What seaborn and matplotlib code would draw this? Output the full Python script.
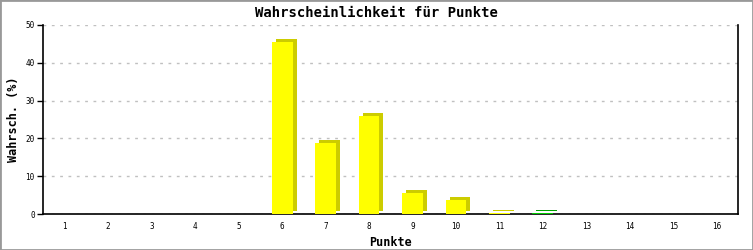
import matplotlib
matplotlib.use("Agg")
import matplotlib.pyplot as plt
import matplotlib.transforms as mtransforms
from matplotlib.patches import Rectangle
import seaborn as sns
import pandas as pd

punkte = [str(i) for i in range(1, 17)]
wahrsch = [0, 0, 0, 0, 0, 45.5, 18.9, 26.0, 5.6, 3.7, 0.3, 0.2, 0, 0, 0, 0]
front_colors = ["#FFFF00"] * 11 + ["#00CC00"] + ["#FFFF00"] * 4
shadow_colors = ["#CCCC00"] * 11 + ["#00A000"] + ["#CCCC00"] * 4

title = "Wahrscheinlichkeit für Punkte"
xlabel = "Punkte"
ylabel = "Wahrsch. (%)"
yticks = [0, 10, 20, 30, 40, 50]

sns.set_theme(style="white")
plt.rcParams["font.family"] = ["DejaVu Sans Mono", "DejaVu Sans"]
plt.rcParams["text.color"] = "black"
plt.rcParams["axes.labelcolor"] = "black"
plt.rcParams["xtick.color"] = "black"
plt.rcParams["ytick.color"] = "black"

df = pd.DataFrame({"Punkte": punkte, "Wahrsch": wahrsch})

fig = plt.figure(figsize=(7.53, 2.5), dpi=100)
ax = fig.add_axes([43 / 753, 1 - 214 / 250, (738.5 - 43) / 753, (214 - 25) / 250])

# shadow bars (3D extrusion)
sns.barplot(data=df, x="Punkte", y="Wahrsch", hue="Punkte", order=punkte,
            hue_order=punkte, palette=shadow_colors, width=0.48, legend=False,
            saturation=1, ax=ax, linewidth=0, zorder=2)
n_shadow = len(ax.patches)
off = mtransforms.ScaledTranslation(4 / 100, 3 / 100, fig.dpi_scale_trans)
for p in ax.patches[:n_shadow]:
    p.set_transform(ax.transData + off)

# front bars
sns.barplot(data=df, x="Punkte", y="Wahrsch", hue="Punkte", order=punkte,
            hue_order=punkte, palette=front_colors, width=0.48, legend=False,
            saturation=1, ax=ax, linewidth=0, zorder=3)

ax.set_xlim(-0.5, 15.5)
ax.set_ylim(0, 50)
ax.set_yticks(yticks)
ax.set_yticklabels([str(v) for v in yticks], fontsize=5.5)
ax.tick_params(axis="x", bottom=False, length=0, labelsize=5.5, pad=6,
               labelcolor="black")
ax.tick_params(axis="y", left=True, length=4, width=1, color="black",
               direction="out", pad=2, labelcolor="black")
for t in ax.get_xticklabels():
    t.set_fontsize(5.5)

ax.grid(axis="y", color="#C0C0C0", linestyle=(0, (2, 4)), linewidth=1, zorder=1)
ax.set_axisbelow(True)

for s in ["left", "bottom", "right"]:
    ax.spines[s].set_visible(True)
    ax.spines[s].set_color("black")
    ax.spines[s].set_linewidth(1.2)
ax.spines["top"].set_visible(False)

ax.set_xlabel(xlabel, fontsize=8.5, fontweight="bold", labelpad=3, color="black")
ax.set_ylabel(ylabel, fontsize=8.5, fontweight="bold", labelpad=4, color="black")
fig.text(0.5, 1 - 13 / 250, title, ha="center", va="center",
         fontsize=10, fontweight="bold", color="black")

fig.patches.append(Rectangle((0, 0), 1, 1, transform=fig.transFigure,
                             fill=False, edgecolor="#999999", linewidth=2))

fig.savefig("out.png", dpi=100)
